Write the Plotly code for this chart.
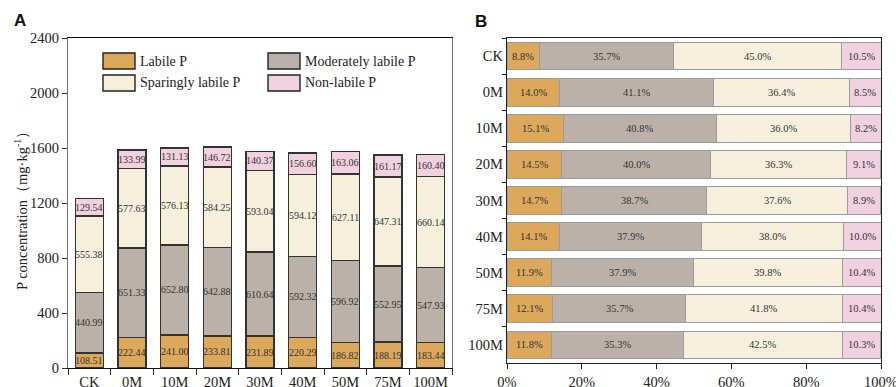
import plotly.graph_objects as go

W, H = 896, 387

# ---- data -------------------------------------------------------------
treatments = ["CK", "0M", "10M", "20M", "30M", "40M", "50M", "75M", "100M"]
fractions = ["Labile P", "Moderately labile P", "Sparingly labile P", "Non-labile P"]
colors = ["#DBA85C", "#BBB1A9", "#F5EFDC", "#F1D1DF"]

labile_p = [108.51, 222.44, 241.00, 233.81, 231.89, 220.29, 186.82, 188.19, 183.44]
moderate_p = [440.99, 651.33, 652.80, 642.88, 610.64, 592.32, 596.92, 552.95, 547.93]
sparing_p = [555.38, 577.63, 576.13, 584.25, 593.04, 594.12, 627.11, 647.31, 660.14]
nonlabile_p = [129.54, 133.99, 131.13, 146.72, 140.37, 156.60, 163.06, 161.17, 160.40]

labile_pct = [8.8, 14.0, 15.1, 14.5, 14.7, 14.1, 11.9, 12.1, 11.8]
moderate_pct = [35.7, 41.1, 40.8, 40.0, 38.7, 37.9, 37.9, 35.7, 35.3]
sparing_pct = [45.0, 36.4, 36.0, 36.3, 37.6, 38.0, 39.8, 41.8, 42.5]
nonlabile_pct = [10.5, 8.5, 8.2, 9.1, 8.9, 10.0, 10.4, 10.4, 10.3]

conc_series = [labile_p, moderate_p, sparing_p, nonlabile_p]
pct_series = [labile_pct, moderate_pct, sparing_pct, nonlabile_pct]

y_ticks = [0, 400, 800, 1200, 1600, 2000, 2400]
x_ticks_pct = [0, 20, 40, 60, 80, 100]


def px_x(v):
    return v / W


def px_y(v):
    return 1 - v / H


SERIF = "Liberation Serif, Times New Roman, serif"
fig = go.Figure()

annotations = []

# ---- panel A: stacked concentrations ---------------------------------
base = [0.0] * len(treatments)
for name, vals, col in zip(fractions, conc_series, colors):
    fig.add_trace(go.Bar(
        x=treatments, y=vals, name=name, width=0.66,
        marker=dict(color=col, line=dict(color="#333333", width=1.4)),
        xaxis="x", yaxis="y", showlegend=False, hoverinfo="x+y+name",
    ))
    for i, (t, v) in enumerate(zip(treatments, vals)):
        annotations.append(dict(
            x=t, y=base[i] + v / 2, xref="x", yref="y", text=f"{v:.2f}",
            showarrow=False, font=dict(family=SERIF, size=10, color="#333333"),
        ))
        base[i] += v

# ---- panel B: stacked proportions ------------------------------------
base = [0.0] * len(treatments)
for name, vals, col in zip(fractions, pct_series, colors):
    fig.add_trace(go.Bar(
        y=treatments, x=vals, name=name, orientation="h", width=0.77,
        marker=dict(color=col, line=dict(color="#9C9C9C", width=1)),
        xaxis="x2", yaxis="y2", showlegend=False, hoverinfo="y+x+name",
    ))
    for i, (t, v) in enumerate(zip(treatments, vals)):
        annotations.append(dict(
            x=base[i] + v / 2, y=t, xref="x2", yref="y2", text=f"{v:.1f}%",
            showarrow=False, font=dict(family=SERIF, size=10.5, color="#333333"),
        ))
        base[i] += v

# ---- legend drawn inside panel A --------------------------------------
shapes = []
legend_slots = [(103, 53), (268, 53), (103, 75), (268, 75)]
for (lx, ly), k in zip(legend_slots, range(len(fractions))):
    shapes.append(dict(
        type="rect", xref="paper", yref="paper",
        x0=px_x(lx), x1=px_x(lx + 32), y0=px_y(ly), y1=px_y(ly + 16),
        fillcolor=colors[k], line=dict(color="#222222", width=1.4),
    ))
    annotations.append(dict(
        x=px_x(lx + 35), y=px_y(ly + 8), xref="paper", yref="paper",
        text=fractions[k], showarrow=False, xanchor="left", yanchor="middle",
        font=dict(family=SERIF, size=14, color="#222222"),
    ))

# panel letters
letter_font = dict(family="Liberation Sans, Arial", size=17, color="#111111")
annotations.append(dict(x=px_x(20), y=px_y(21), xref="paper", yref="paper", text="<b>A</b>",
                        xanchor="center", yanchor="middle", showarrow=False, font=letter_font))
annotations.append(dict(x=px_x(481), y=px_y(22), xref="paper", yref="paper", text="<b>B</b>",
                        xanchor="center", yanchor="middle", showarrow=False, font=letter_font))

# y-axis title of panel A
annotations.append(dict(
    x=px_x(21), y=px_y(207), xref="paper", yref="paper", textangle=-90,
    xanchor="center", yanchor="middle",
    text="P concentration\uff08mg\u00b7kg<sup>-1</sup>\uff09", showarrow=False,
    font=dict(family=SERIF, size=14.5, color="#222222"),
))

tickfont = dict(family=SERIF, size=14.5, color="#222222")

fig.update_layout(
    width=W, height=H,
    margin=dict(l=0, r=0, t=0, b=0),
    paper_bgcolor="white", plot_bgcolor="white",
    barmode="stack",
    showlegend=False,
    annotations=annotations,
    shapes=shapes,
    xaxis=dict(
        domain=[px_x(68), px_x(452)], anchor="y", type="category",
        categoryorder="array", categoryarray=treatments, range=[-0.5, len(treatments) - 0.5],
        tickson="boundaries", ticks="outside", ticklen=6, tickcolor="#333333", tickangle=0,
        showline=True, linecolor="#111111", linewidth=1.3, mirror=True,
        showgrid=False, zeroline=False, tickfont=tickfont, automargin=False,
        ticklabeloverflow="allow",
    ),
    yaxis=dict(
        domain=[px_y(368), px_y(38)], anchor="x",
        range=[y_ticks[0], y_ticks[-1]], tickvals=y_ticks,
        ticks="outside", ticklen=5, tickcolor="#333333",
        showline=True, linecolor="#777777", linewidth=1.3, mirror=True,
        showgrid=False, zeroline=False, tickfont=tickfont, automargin=False,
        ticklabeloverflow="allow",
    ),
    xaxis2=dict(
        domain=[px_x(507), px_x(881)], anchor="y2",
        range=[0, 100], tickvals=x_ticks_pct, ticktext=[f"{v}%" for v in x_ticks_pct],
        ticks="outside", ticklen=5, tickcolor="#222222", tickangle=0,
        showline=True, linecolor="#222222", linewidth=1.3, mirror=True,
        showgrid=False, zeroline=False, tickfont=tickfont, automargin=False,
        ticklabeloverflow="allow",
    ),
    yaxis2=dict(
        domain=[px_y(363), px_y(38)], anchor="x2", type="category",
        categoryorder="array", categoryarray=treatments, range=[len(treatments) - 0.5, -0.5],
        tickson="boundaries", ticks="outside", ticklen=4, tickcolor="#222222",
        showline=True, linecolor="#222222", linewidth=1.3, mirror=True,
        showgrid=False, zeroline=False, tickfont=tickfont, automargin=False,
        ticklabeloverflow="allow",
    ),
)

fig.write_html("out.html")
